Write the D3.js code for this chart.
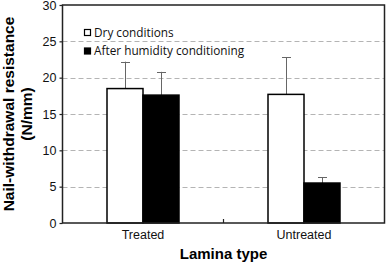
<!DOCTYPE html>
<html><head><meta charset="utf-8">
<script src="https://cdn.jsdelivr.net/npm/d3@7"></script>
<style>body{margin:0;background:#fff}svg{display:block}</style>
</head><body><svg id="c" width="387" height="264"></svg>
<script>
const categories = ["Treated", "Untreated"];
const seriesNames = ["Dry conditions", "After humidity conditioning"];
const dryValues = [18.5, 17.7];
const dryErrors = [3.7, 5.1];
const humidValues = [17.6, 5.5];
const humidErrors = [3.2, 0.8];
const yTicks = [0, 5, 10, 15, 20, 25, 30];

const svg = d3.select("#c");
const m = {l: 62.5, t: 5, r: 384.5, b: 223};
const x = d3.scaleBand().domain(categories).range([m.l, m.r]).padding(0);
const y = d3.scaleLinear().domain([0, 30]).range([m.b, m.t]);
const barW = 36;

// gridlines
svg.append("g").selectAll("line").data(yTicks.filter(d => d > 0 && d < 30)).join("line")
  .attr("x1", m.l).attr("x2", m.r).attr("y1", d => Math.round(y(d)) + 0.5).attr("y2", d => Math.round(y(d)) + 0.5)
  .attr("stroke", "#b4b4b4").attr("stroke-width", 1).attr("stroke-dasharray", "5,3");

const rows = categories.map((c, i) => [
  {c, k: 0, v: dryValues[i], e: dryErrors[i]},
  {c, k: 1, v: humidValues[i], e: humidErrors[i]}
]).flat();

// error bars
const eg = svg.append("g").attr("stroke", "#666").attr("stroke-width", 1);
rows.forEach(d => {
  const cx = x(d.c) + x.bandwidth() / 2 + (d.k === 0 ? -barW / 2 : barW / 2);
  const xx = Math.round(cx) + 0.5;
  eg.append("line").attr("x1", xx).attr("x2", xx).attr("y1", y(d.v)).attr("y2", y(d.v + d.e));
  eg.append("line").attr("x1", xx - 4.5).attr("x2", xx + 4.5).attr("y1", Math.round(y(d.v + d.e)) + 0.5).attr("y2", Math.round(y(d.v + d.e)) + 0.5);
});

// bars
svg.append("g").selectAll("rect").data(rows).join("rect")
  .attr("x", d => x(d.c) + x.bandwidth() / 2 + (d.k === 0 ? -barW : 0))
  .attr("y", d => y(d.v)).attr("width", barW).attr("height", d => y(0) - y(d.v))
  .attr("fill", d => d.k === 0 ? "#fff" : "#000").attr("stroke", "#000").attr("stroke-width", 1.5);

// frame
svg.append("rect").attr("x", m.l).attr("y", m.t).attr("width", m.r - m.l).attr("height", m.b - m.t)
  .attr("fill", "none").attr("stroke", "#222").attr("stroke-width", 1.5);

// y axis
const ya = svg.append("g").attr("transform", `translate(${m.l},0)`)
  .call(d3.axisLeft(y).tickValues(yTicks).tickSize(3).tickPadding(3));
ya.select(".domain").remove();
ya.selectAll("line").attr("stroke", "#222").attr("stroke-width", 1.2);
ya.selectAll("text").attr("font-family", "Liberation Sans, Arial, sans-serif").attr("font-size", 12.5).attr("fill", "#111");

// x axis
const xa = svg.append("g").attr("transform", `translate(0,${m.b})`)
  .call(d3.axisBottom(x).tickSize(0).tickPadding(7));
xa.select(".domain").remove();
xa.selectAll("text").attr("font-family", "Liberation Sans, Arial, sans-serif").attr("font-size", 12.5).attr("fill", "#111");
// inner divider tick between categories
svg.append("line").attr("x1", x(categories[1])).attr("x2", x(categories[1])).attr("y1", m.b).attr("y2", m.b - 4)
  .attr("stroke", "#222").attr("stroke-width", 1.2);

// axis titles
svg.append("text").attr("x", (m.l + m.r) / 2).attr("y", 259).attr("text-anchor", "middle")
  .attr("font-family", "Liberation Sans, Arial, sans-serif").attr("font-weight", "bold").attr("font-size", 15).text("Lamina type");
const yt = svg.append("text").attr("transform", `translate(0,${(m.t + m.b) / 2}) rotate(-90)`)
  .attr("text-anchor", "middle").attr("font-family", "Liberation Sans, Arial, sans-serif").attr("font-weight", "bold").attr("font-size", 15.5);
yt.append("tspan").attr("x", 0).attr("y", 14).text("Nail-withdrawal resistance");
yt.append("tspan").attr("x", 0).attr("y", 32).text("(N/mm)");

// legend
const lg = svg.append("g");
seriesNames.forEach((s, i) => {
  const yy = 29 + i * 18.5;
  lg.append("rect").attr("x", 84.5).attr("y", yy + 0.5).attr("width", 6).attr("height", 6)
    .attr("fill", i === 0 ? "#fff" : "#000").attr("stroke", "#000").attr("stroke-width", 1.2);
  lg.append("text").attr("x", 94).attr("y", yy + 7.5).attr("font-family", "Open Sans, sans-serif").attr("font-size", 11.8)
    .attr("fill", "#111").text(s);
});
</script></body></html>
